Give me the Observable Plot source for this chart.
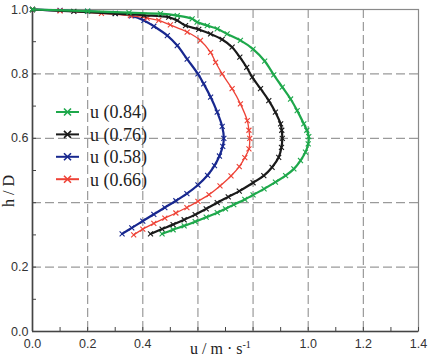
<!DOCTYPE html>
<html>
<head>
<meta charset="utf-8">
<script src="https://cdn.jsdelivr.net/npm/d3@7"></script>
<script src="https://cdn.jsdelivr.net/npm/@observablehq/plot@0.6"></script>
<style>
  html, body { margin: 0; padding: 0; background: #fff; }
  #chart { position: relative; width: 432px; height: 356px; }
</style>
</head>
<body>
<div id="chart"></div>
<script>
// ---- data ----
const seriesNames = ["u (0.84)", "u (0.76)", "u (0.58)", "u (0.66)"];

const u084 = [0.47,0.51,0.55,0.59,0.63,0.67,0.70,0.73,0.77,0.80,0.84,0.881,0.918,0.948,0.972,0.99,1.0,1.002,0.995,0.984,0.96,0.936,0.906,0.875,0.842,0.80,0.754,0.706,0.67,0.634,0.597,0.579,0.525,0.464,0.35,0.2,0];
const h084 = [0.303,0.316,0.328,0.341,0.355,0.369,0.381,0.394,0.41,0.424,0.443,0.464,0.484,0.505,0.531,0.557,0.583,0.605,0.625,0.645,0.686,0.722,0.759,0.797,0.84,0.877,0.904,0.924,0.94,0.95,0.961,0.971,0.981,0.987,0.99,0.995,1.0];

const u076 = [0.428,0.47,0.51,0.55,0.59,0.63,0.67,0.71,0.75,0.80,0.839,0.869,0.893,0.903,0.906,0.904,0.90,0.881,0.857,0.827,0.797,0.777,0.752,0.724,0.688,0.646,0.603,0.555,0.525,0.494,0.404,0.30,0.15,0];
const h076 = [0.303,0.318,0.332,0.347,0.363,0.381,0.40,0.418,0.436,0.462,0.484,0.51,0.541,0.572,0.60,0.625,0.645,0.681,0.717,0.754,0.79,0.82,0.852,0.883,0.907,0.924,0.938,0.95,0.966,0.976,0.982,0.987,0.994,1.0];

const u058 = [0.325,0.36,0.40,0.44,0.48,0.52,0.56,0.60,0.635,0.66,0.678,0.690,0.694,0.688,0.670,0.646,0.621,0.600,0.561,0.525,0.489,0.44,0.404,0.36,0.30,0.2,0.1,0];
const h058 = [0.303,0.322,0.343,0.364,0.385,0.406,0.428,0.455,0.485,0.515,0.545,0.575,0.600,0.637,0.681,0.728,0.769,0.80,0.846,0.888,0.919,0.948,0.966,0.980,0.988,0.994,0.997,1.0];

const u066 = [0.367,0.40,0.44,0.48,0.52,0.56,0.60,0.64,0.68,0.72,0.75,0.77,0.785,0.788,0.785,0.779,0.754,0.724,0.688,0.664,0.646,0.609,0.561,0.5,0.458,0.416,0.355,0.25,0.1,0];
const h066 = [0.300,0.318,0.336,0.352,0.368,0.385,0.404,0.425,0.452,0.483,0.512,0.54,0.567,0.600,0.625,0.655,0.707,0.754,0.80,0.836,0.867,0.904,0.93,0.952,0.966,0.973,0.981,0.988,0.996,1.0];

const xTickLabels = [0.0, 0.2, 0.4, 1.0, 1.2, 1.4];
const yTickLabels = [0.0, 0.2, 0.6, 0.8, 1.0];
const xGrid = [0.2, 0.4, 0.6, 0.8, 1.0, 1.2];
const yGrid = [0.2, 0.4, 0.6, 0.8];
const minorTicksX = d3.range(0, 15).map(i => i / 10);
const minorTicksY = d3.range(0, 11).map(i => i / 10);

// ---- styles ----
const colors = ["#1ea84b", "#1a1a1a", "#18288f", "#ee4236"];
const widths = [2.2, 2.2, 2.2, 1.3];

const allU = [u084, u076, u058, u066];
const allH = [h084, h076, h058, h066];
const rows = [];
seriesNames.forEach((s, k) => allU[k].forEach((u, i) => rows.push({series: s, u, h: allH[k][i]})));

const drawOrder = [2, 3, 1, 0];
const curveMarks = [];
for (const k of drawOrder) {
  const d = rows.filter(r => r.series === seriesNames[k]);
  curveMarks.push(Plot.line(d, {x: "u", y: "h", stroke: colors[k], strokeWidth: widths[k], curve: "catmull-rom"}));
  curveMarks.push(Plot.dot(d, {x: "u", y: "h", stroke: colors[k], symbol: "times", r: 2.4, strokeWidth: 1.1}));
}

const chart = Plot.plot({
  width: 432,
  height: 356,
  marginLeft: 32,
  marginRight: 14,
  marginTop: 9,
  marginBottom: 25,
  style: {fontFamily: "'Liberation Sans', Arial, sans-serif", fontSize: "12.5px", color: "#333", background: "#fff"},
  x: {domain: [0, 1.4]},
  y: {domain: [0, 1]},
  marks: [
    Plot.gridX(xGrid, {stroke: "#9a9a9a", strokeOpacity: 1, strokeWidth: 1.2, strokeDasharray: "9,4"}),
    Plot.gridY(yGrid, {stroke: "#9a9a9a", strokeOpacity: 1, strokeWidth: 1.2, strokeDasharray: "9,4"}),
    Plot.frame({stroke: "#8a8a8a", strokeWidth: 1.2}),
    Plot.axisX(minorTicksX, {tickSize: -4, tickFormat: () => "", label: null, stroke: "#444"}),
    Plot.axisY(minorTicksY, {tickSize: -4, tickFormat: () => "", label: null, stroke: "#444"}),
    Plot.axisX(xTickLabels, {tickSize: 0, tickPadding: 8, tickFormat: d3.format(".1f"), label: null, fill: "#333"}),
    Plot.axisY(yTickLabels, {tickSize: 0, tickPadding: 4, tickFormat: d3.format(".1f"), label: null, fill: "#333"}),
    Plot.ruleX([0], {stroke: "#444", strokeWidth: 1.6}),
    Plot.ruleY([0], {stroke: "#444", strokeWidth: 1.6}),
    ...curveMarks
  ]
});

document.getElementById("chart").appendChild(chart);

// ---- axis titles & legend (drawn into the SVG) ----
const svg = d3.select(chart);
const serif = "'Liberation Serif', 'Times New Roman', serif";

svg.append("text")
  .attr("transform", "translate(14,191) rotate(-90)")
  .attr("text-anchor", "middle")
  .attr("font-family", serif)
  .attr("font-size", 16)
  .attr("fill", "#222")
  .text("h / D");

const xl = svg.append("text")
  .attr("x", 190)
  .attr("y", 354)
  .attr("text-anchor", "start")
  .attr("font-family", serif)
  .attr("font-size", 16)
  .attr("fill", "#222");
xl.append("tspan").text("u / m · s");
xl.append("tspan").attr("font-size", 10).attr("dy", -6).text("-1");

const lg = svg.append("g").attr("transform", "translate(56,112)");
seriesNames.forEach((s, k) => {
  const g = lg.append("g").attr("transform", `translate(0,${k * 22.4})`);
  g.append("line").attr("x1", 0).attr("x2", 23).attr("y1", 0).attr("y2", 0)
    .attr("stroke", colors[k]).attr("stroke-width", 2);
  g.append("path").attr("d", "M8,-3.5L15,3.5M8,3.5L15,-3.5")
    .attr("stroke", colors[k]).attr("stroke-width", 1.6);
  g.append("text").attr("x", 34).attr("y", 0).attr("dy", "0.35em")
    .attr("text-anchor", "start")
    .attr("font-family", serif).attr("font-size", 18).attr("fill", "#222")
    .text(s);
});
</script>
</body>
</html>
